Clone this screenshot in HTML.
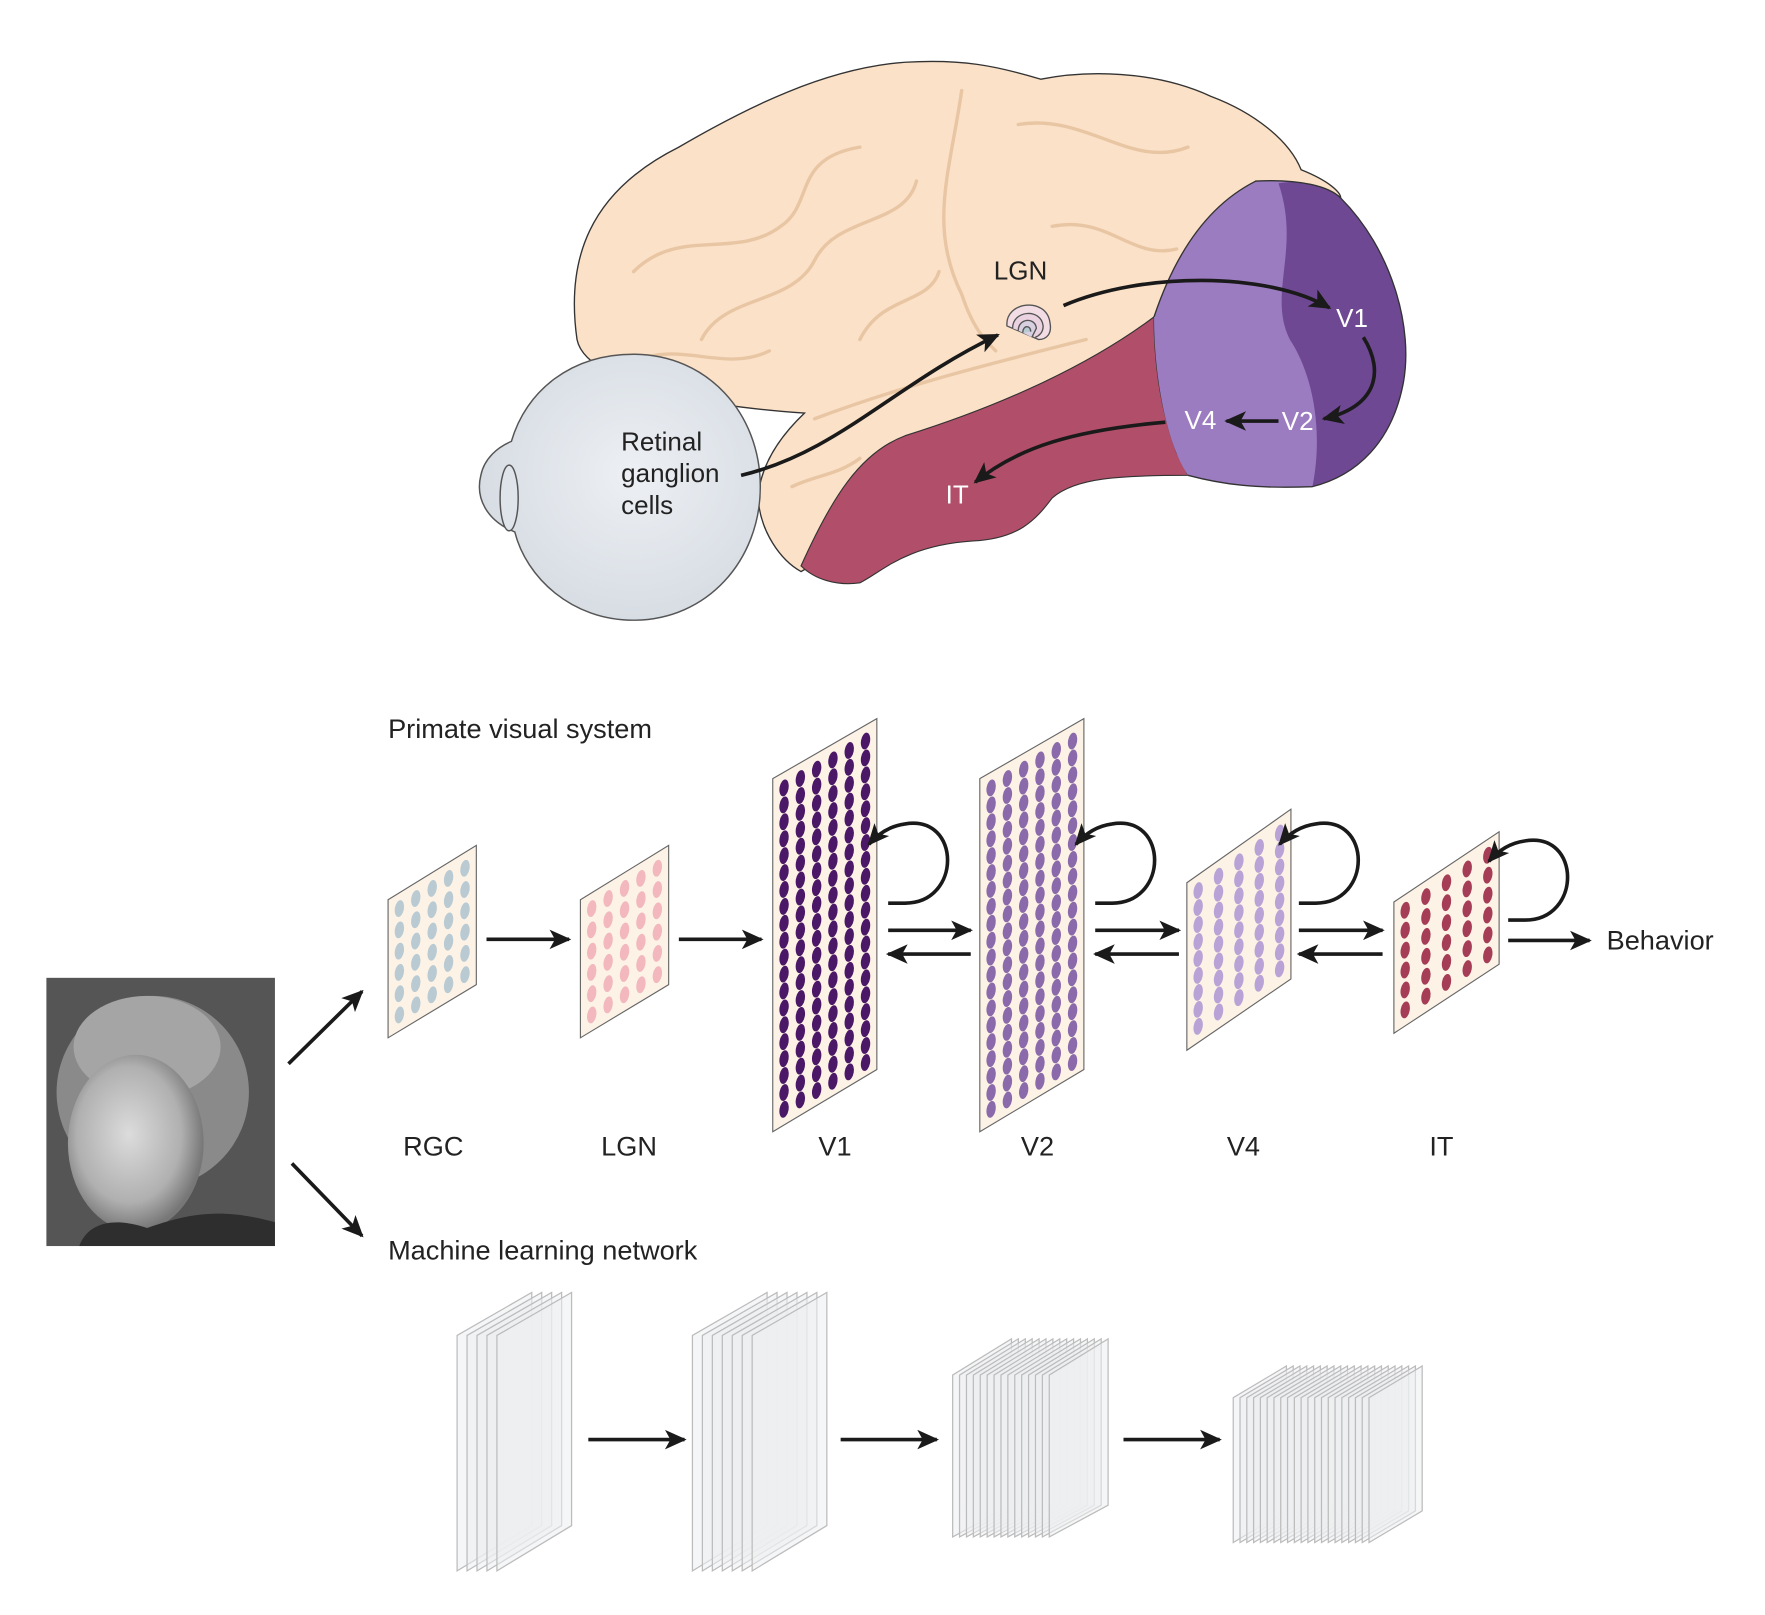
<!DOCTYPE html>
<html><head><meta charset="utf-8"><style>
html,body{margin:0;padding:0;background:#fff}
svg{display:block}
text{font-family:"Liberation Sans",sans-serif}
</style></head><body>
<svg id="s" width="1765" height="1615" viewBox="0 0 1560 1427" preserveAspectRatio="none" xmlns="http://www.w3.org/2000/svg">
<defs>
<marker id="ah" viewBox="0 0 10 10" refX="9" refY="5" markerWidth="6" markerHeight="6" orient="auto"><path d="M0,0.5 L10,5 L0,9.5 L2.5,5 z" fill="#1a1a1a"/></marker>
<radialGradient id="eye" cx="0.55" cy="0.45" r="0.6"><stop offset="0" stop-color="#edf0f4"/><stop offset="1" stop-color="#d5dbe2"/></radialGradient>
<radialGradient id="face" cx="0.45" cy="0.45" r="0.55"><stop offset="0" stop-color="#dcdcdc"/><stop offset="0.7" stop-color="#b0b0b0"/><stop offset="1" stop-color="#777"/></radialGradient>
</defs>
<!-- brain -->
<path d="M510,300 C500,230 520,170 600,130 C660,95 730,60 800,55 C850,52 880,58 920,70 C960,62 1020,62 1070,85 C1110,100 1140,125 1150,150 C1175,160 1185,170 1185,175 L1110,160 L1020,280 L1040,400 L900,440 L780,480 L720,498 L708,505 C690,495 672,470 670,440 C672,410 690,385 711,365 C640,360 580,350 540,330 C520,320 512,310 510,300 Z" fill="#fbe1c7" stroke="#333" stroke-width="1.2"/>
<g fill="none" stroke="#e8c6a4" stroke-width="3" stroke-linecap="round">
<path d="M560,240 C600,200 650,230 690,200 C720,180 700,140 760,130"/>
<path d="M620,300 C640,260 700,270 720,230 C740,190 800,200 810,160"/>
<path d="M850,80 C840,150 820,200 850,260 C860,290 870,300 880,310"/>
<path d="M900,110 C960,100 1000,150 1050,130"/>
<path d="M930,200 C980,190 1000,230 1040,220"/>
<path d="M560,320 C600,300 640,330 680,310"/>
<path d="M760,300 C780,260 820,270 830,240"/>
<path d="M720,370 C800,340 880,320 960,300"/>
<path d="M700,430 C720,420 740,420 760,405"/>
</g>
<path d="M1020,280 C960,325 880,360 800,385 C760,400 735,440 708,500 C720,512 740,518 760,515 C780,505 800,482 860,478 C900,476 915,460 930,440 C950,422 990,420 1050,420 L1040,400 C1025,360 1020,320 1020,280 Z" fill="#b14e69" stroke="#333" stroke-width="1"/>
<path d="M1020,280 C1040,220 1070,180 1110,160 C1150,158 1175,165 1185,175 C1230,220 1250,290 1240,340 C1230,390 1200,420 1160,430 C1110,432 1080,428 1050,420 C1030,390 1020,330 1020,280 Z" fill="#9c7cc0"/>
<path d="M1130,162 C1150,158 1175,165 1185,175 C1230,220 1250,290 1240,340 C1230,390 1200,420 1160,430 C1170,380 1160,330 1140,300 C1120,260 1150,220 1130,162 Z" fill="#6f4894"/>
<path d="M1020,280 C1040,220 1070,180 1110,160 C1150,158 1175,165 1185,175 C1230,220 1250,290 1240,340 C1230,390 1200,420 1160,430 C1110,432 1080,428 1050,420" fill="none" stroke="#333" stroke-width="1.2"/>
<!-- eye -->
<path d="M560,313 C625,313 672,365 672,430 C672,495 625,548 560,548 C505,548 465,510 455,470 C430,460 420,440 425,420 C428,405 440,395 452,390 C465,345 505,313 560,313 Z" fill="url(#eye)" stroke="#555" stroke-width="1.3"/>
<ellipse cx="450" cy="440" rx="8" ry="29" fill="#dfe4ea" stroke="#555" stroke-width="1.3"/>
<!-- LGN icon -->
<g stroke="#555" stroke-width="1.2">
<path d="M890,288 C888,266 925,262 928,285 C930,295 925,300 918,300 Z" fill="#f3dde4"/>
<path d="M895,290 C895,274 920,272 922,288 C922,294 918,297 915,298" fill="#ead2e0"/>
<path d="M900,292 C900,281 915,280 916,290 L912,298" fill="#d8d0e0"/>
<path d="M904,294 C904,287 911,287 911,293" fill="#b6cad2"/>
</g>
<text x="902" y="247" font-size="23" text-anchor="middle" fill="#222">LGN</text>
<text x="549" y="398" font-size="23" fill="#222">Retinal</text>
<text x="549" y="426" font-size="23" fill="#222">ganglion</text>
<text x="549" y="454" font-size="23" fill="#222">cells</text>
<text x="1195" y="289" font-size="23" text-anchor="middle" fill="#fff">V1</text>
<text x="1147" y="380" font-size="23" text-anchor="middle" fill="#fff">V2</text>
<text x="1061" y="379" font-size="23" text-anchor="middle" fill="#fff">V4</text>
<text x="846" y="445" font-size="23" text-anchor="middle" fill="#fff">IT</text>
<g fill="none" stroke="#1a1a1a" stroke-width="3.2" marker-end="url(#ah)">
<path d="M655,420 C740,400 790,340 882,296"/>
<path d="M940,270 C1010,240 1120,240 1175,272"/>
<path d="M1205,298 C1225,330 1215,360 1170,370"/>
<path d="M1130,372 L1084,372"/>
<path d="M1030,373 C950,380 900,395 862,426"/>
</g>
<!-- bottom -->
<text x="343" y="652" font-size="24" fill="#222">Primate visual system</text>
<text x="343" y="1113" font-size="24" fill="#222">Machine learning network</text>
<text x="1420" y="839" font-size="24" fill="#222">Behavior</text>
<g font-size="24" fill="#222" text-anchor="middle">
<text x="383" y="1021">RGC</text><text x="556" y="1021">LGN</text><text x="738" y="1021">V1</text><text x="917" y="1021">V2</text><text x="1099" y="1021">V4</text><text x="1274" y="1021">IT</text>
</g>
<g id="panels"></g>
<g fill="none" stroke="#1a1a1a" stroke-width="3.2" marker-end="url(#ah)">
<path d="M430,830 H503"/><path d="M600,830 H673"/>
<path d="M785,822 H858"/><path d="M858,843 H785"/>
<path d="M968,822 H1042"/><path d="M1042,843 H968"/>
<path d="M1148,822 H1222"/><path d="M1222,843 H1148"/>
<path d="M1333,831 H1405"/>
<path d="M255,940 L320,876"/><path d="M258,1028 L320,1092"/>
<path d="M785,798 H800 C850,798 850,720 800,728 C785,730 775,738 768,746"/>
<path d="M968,798 H983 C1033,798 1033,720 983,728 C968,730 958,738 951,746"/>
<path d="M1148,798 H1163 C1213,798 1213,720 1163,728 C1148,730 1138,738 1131,746"/>
<path d="M1333,813 H1348 C1398,813 1398,735 1348,743 C1333,745 1323,753 1316,761"/>
</g>
<!-- photo -->
<rect x="41" y="864" width="202" height="237" fill="#555"/>
<ellipse cx="135" cy="965" rx="85" ry="85" fill="#8a8a8a"/>
<ellipse cx="130" cy="925" rx="65" ry="45" fill="#a5a5a5"/>
<ellipse cx="120" cy="1010" rx="60" ry="78" fill="url(#face)"/>
<path d="M70,1101 C80,1075 110,1078 130,1085 C160,1075 190,1065 243,1080 L243,1101 Z" fill="#2e2e2e"/>
<g id="ml"></g>
</svg>
<script>
var NS="http://www.w3.org/2000/svg";
function el(p,t,a){var e=document.createElementNS(NS,t);for(var k in a)e.setAttribute(k,a[k]);p.appendChild(e);return e;}
var P=document.getElementById("panels");
function panel(x1,x2,tl,bl,tr,br,cols,rows,col,rx,ry){
 el(P,"polygon",{points:x1+","+tl+" "+x2+","+tr+" "+x2+","+br+" "+x1+","+bl,fill:"#fcf3e6",stroke:"#666","stroke-width":1});
 var w=x2-x1, slope=(tr-tl)/w, m=10;
 for(var c=0;c<cols;c++){var x=x1+m+ (w-2*m)*(cols==1?0.5:c/(cols-1));
  var top=tl+slope*(x-x1)+14, bot=bl+slope*(x-x1)-14;
  for(var r=0;r<rows;r++){var y=top+(bot-top)*r/(rows-1);
   el(P,"ellipse",{cx:x.toFixed(1),cy:y.toFixed(1),rx:rx,ry:ry,fill:col,transform:"rotate(10 "+x.toFixed(1)+" "+y.toFixed(1)+")"});}}
}
panel(343,421,795,917,747,870,5,6,"#b9cad3",4,7.5);
panel(513,591,795,917,747,870,5,6,"#f2b8bd",4,7.5);
panel(683,775,688,1000,635,945,6,20,"#4b1767",4,7.5);
panel(866,958,688,1000,635,945,6,20,"#8a6aaa",4,7.5);
panel(1049,1141,780,928,715,865,5,9,"#b9a3d6",4,7.5);
panel(1232,1325,797,913,735,852,5,6,"#a63d57",4,7.5);
var M=document.getElementById("ml");
function stack(x0,n,off,w,tl,bl,tr,br){
 for(var i=0;i<n;i++){var x=x0+i*off;
  el(M,"polygon",{points:x+","+tl+" "+(x+w)+","+tr+" "+(x+w)+","+br+" "+x+","+bl,fill:"rgba(236,238,240,0.55)",stroke:"#bcbcbc","stroke-width":1.1});}
}
stack(404,5,8.8,66,1180,1388,1142,1348);
stack(612,7,8.8,66,1180,1388,1142,1348);
stack(842,15,6.1,52,1215,1358,1183,1330);
stack(1090,21,6,47,1235,1363,1207,1335);
[[520,605],[743,828],[993,1078]].forEach(function(a){el(M,"path",{d:"M"+a[0]+",1272 H"+a[1],stroke:"#1a1a1a","stroke-width":3.2,fill:"none","marker-end":"url(#ah)"});});
</script>
</body></html>
